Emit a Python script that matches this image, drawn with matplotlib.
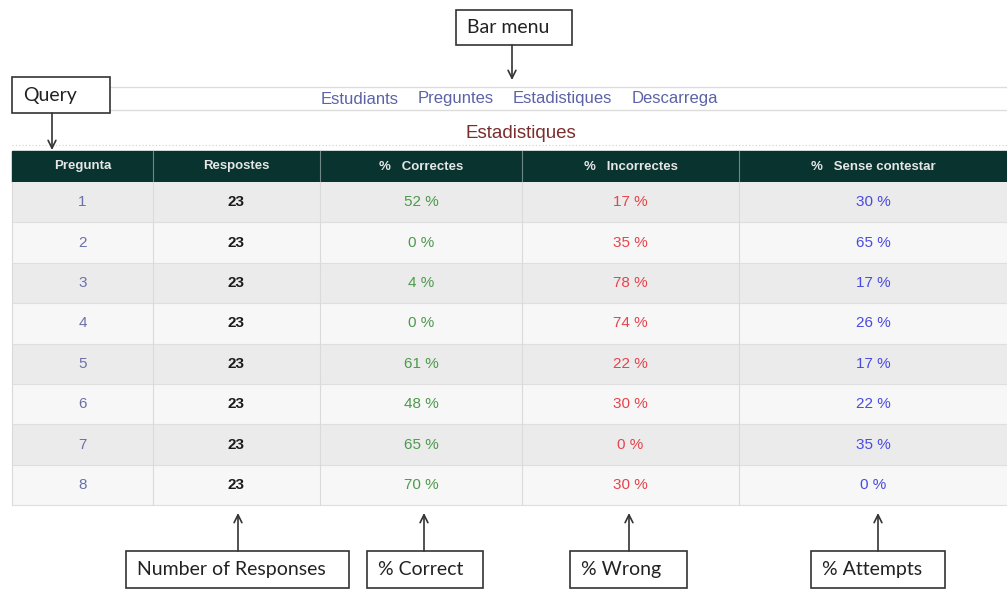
import matplotlib.pyplot as plt
from matplotlib.patches import Rectangle

# Table data
columns = ["Pregunta", "Respostes", "%   Correctes", "%   Incorrectes", "%   Sense contestar"]
preguntes = [1, 2, 3, 4, 5, 6, 7, 8]
respostes = [23, 23, 23, 23, 23, 23, 23, 23]
correctes = [52, 0, 4, 0, 61, 48, 65, 70]
incorrectes = [17, 35, 78, 74, 22, 30, 0, 30]
sense_contestar = [30, 65, 17, 26, 17, 22, 35, 0]
menu_items = ["Estudiants", "Preguntes", "Estadistiques", "Descarrega"]

# Layout (pixel coordinates)
col_edges = [12, 153, 320, 522, 739, 1007]
header_top, header_bot = 151, 182
row_h = 40.4
menu_x = [321, 418, 513, 632]

fig = plt.figure(figsize=(10.07, 5.90), dpi=100)
ax = fig.add_axes([0, 0, 1, 1])
ax.set_xlim(0, 1007)
ax.set_ylim(590, 0)
ax.axis("off")

font = "Liberation Sans"
note_font = "Lato"

# menu bar
ax.plot([12, 1007], [87, 87], color="#dcdcdc", lw=1)
ax.plot([12, 1007], [110, 110], color="#dcdcdc", lw=1)
for x, item in zip(menu_x, menu_items):
    ax.text(x, 99, item, fontsize=12, family=font, color="#5b62a8", va="center", ha="left")

ax.text(521, 133, "Estadistiques", fontsize=13.5, family=font, color="#7a2e2e", ha="center", va="center")
ax.plot([12, 1007], [145, 145], color="#d0d0d0", lw=0.8, ls=(0, (1, 2)))

# header
ax.add_patch(Rectangle((col_edges[0], header_top), col_edges[-1] - col_edges[0],
                       header_bot - header_top, color="#08332e", zorder=1))
for i, name in enumerate(columns):
    cx = (col_edges[i] + col_edges[i + 1]) / 2
    ax.text(cx, (header_top + header_bot) / 2, name, fontsize=9.5, family=font,
            color="#e6e6e6", ha="center", va="center", weight="bold", zorder=3)
    if 0 < i:
        ax.plot([col_edges[i], col_edges[i]], [header_top, header_bot], color="#6f8a86", lw=0.8, zorder=2)

# rows
for r in range(len(preguntes)):
    top = header_bot + r * row_h
    bg = "#ebebeb" if r % 2 == 0 else "#f7f7f7"
    ax.add_patch(Rectangle((col_edges[0], top), col_edges[-1] - col_edges[0], row_h,
                           facecolor=bg, edgecolor="none", zorder=1))
    ax.plot([col_edges[0], col_edges[-1]], [top + row_h, top + row_h], color="#dedede", lw=0.8, zorder=2)
    cy = top + row_h / 2
    vals = [
        (str(preguntes[r]), "#6a70a8", "normal"),
        (str(respostes[r]), "#1a1a1a", "bold"),
        (f"{correctes[r]} %", "#4c9a4c", "normal"),
        (f"{incorrectes[r]} %", "#e6434c", "normal"),
        (f"{sense_contestar[r]} %", "#4a4ae0", "normal"),
    ]
    for i, (txt, col, w) in enumerate(vals):
        cx = (col_edges[i] + col_edges[i + 1]) / 2
        ax.text(cx, cy, txt, fontsize=11, family=font, color=col, weight=w,
                ha="center", va="center", zorder=3)
table_bot = header_bot + len(preguntes) * row_h
for x in col_edges[1:-1]:
    ax.plot([x, x], [header_bot, table_bot], color="#dadada", lw=0.8, zorder=2)
ax.plot([col_edges[0], col_edges[0]], [header_bot, table_bot], color="#dadada", lw=0.8, zorder=2)


# annotation boxes with arrows
def note(x0, y0, x1, y1, label, ax_x, tip_y, up):
    ax.add_patch(Rectangle((x0, y0), x1 - x0, y1 - y0, facecolor="white",
                           edgecolor="#333333", lw=1.2, zorder=4))
    ax.text(x0 + 11, (y0 + y1) / 2, label, fontsize=14, family=note_font,
            color="#222222", ha="left", va="center", zorder=5)
    start_y = y0 if up else y1
    ax.annotate("", xy=(ax_x, tip_y), xytext=(ax_x, start_y),
                arrowprops=dict(arrowstyle="->", color="#333333", lw=1.2,
                                shrinkA=0, shrinkB=0, mutation_scale=14), zorder=5)


note(456, 10, 572, 45, "Bar menu", 512, 80, False)
note(12, 77, 110, 113, "Query", 52, 150, False)
note(126, 551, 349, 588, "Number of Responses", 238, 513, True)
note(367, 551, 483, 588, "% Correct", 424, 513, True)
note(570, 551, 687, 588, "% Wrong", 629, 513, True)
note(811, 551, 945, 588, "% Attempts", 878, 513, True)

fig.savefig("out.png", dpi=100)
